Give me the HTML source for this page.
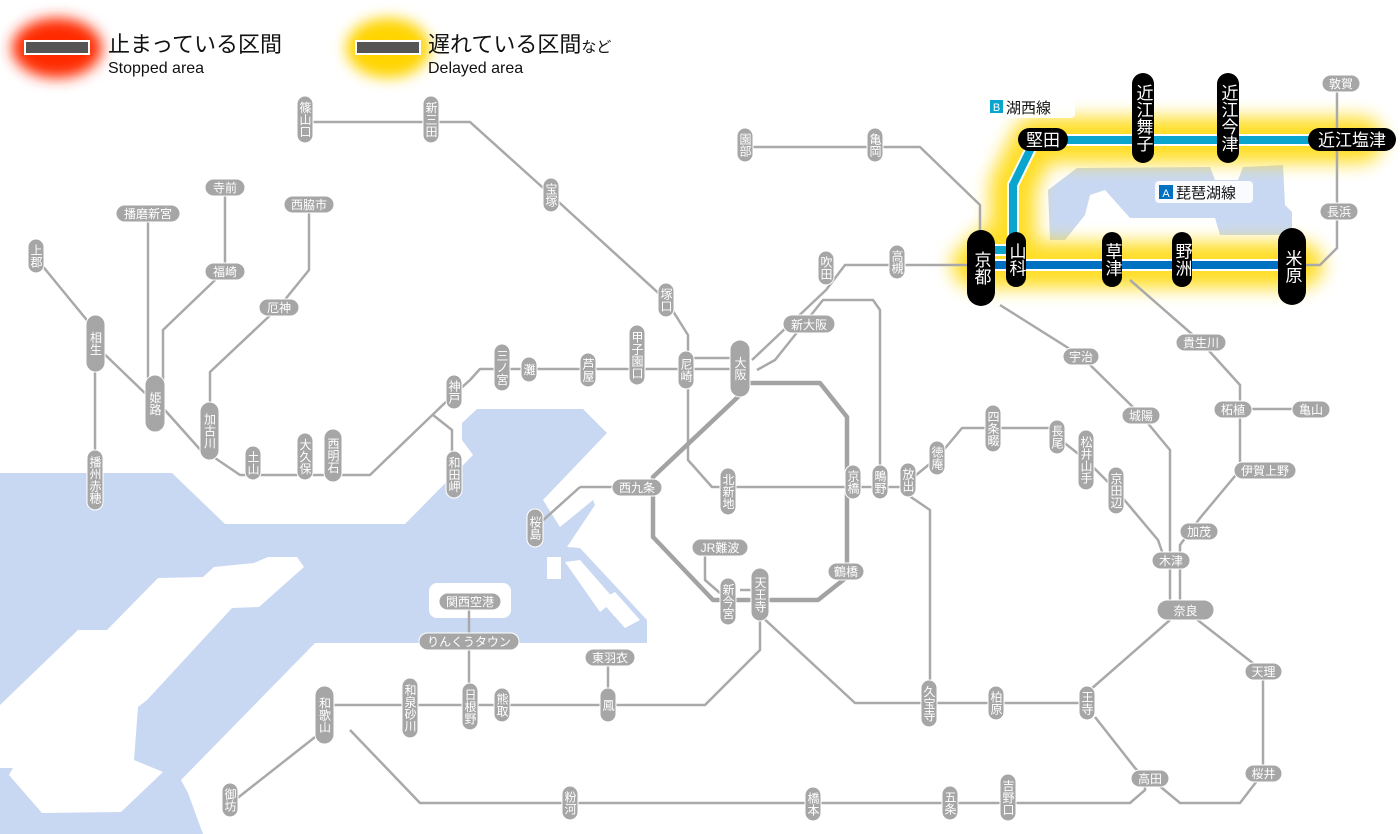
<!DOCTYPE html>
<html><head><meta charset="utf-8"><style>
html,body{margin:0;padding:0;background:#fff;width:1400px;height:834px;overflow:hidden}
svg{display:block}
.l{fill:none;stroke:#a9a9a9;stroke-width:2.5;stroke-linejoin:round}
.L{fill:none;stroke:#a3a3a3;stroke-width:4.5;stroke-linejoin:round}
.p{fill:#a6a6a6;stroke:#fff;stroke-width:1}
.t{fill:#fff;font-family:"Liberation Sans","Noto Sans CJK JP",sans-serif;font-size:12px;text-anchor:middle}
.v{writing-mode:vertical-rl}
.b{fill:#000}
.bt{fill:#fff;font-family:"Liberation Sans","Noto Sans CJK JP",sans-serif;font-size:17px;text-anchor:middle}
.g{font-family:"Liberation Sans","Noto Sans CJK JP",sans-serif}
</style></head><body>
<svg width="1400" height="834" viewBox="0 0 1400 834" xmlns="http://www.w3.org/2000/svg">
<defs>
<filter id="bl" x="-50%" y="-50%" width="200%" height="200%"><feGaussianBlur stdDeviation="9"/></filter>
<filter id="bl2" x="-50%" y="-50%" width="200%" height="200%"><feGaussianBlur stdDeviation="7"/></filter>
</defs>
<!-- sea -->
<polygon fill="#c9d8f2" points="0,473 172,473 225,524 405,524 473,455 462,440 462,423 477,409 583,409 607,433 543,500 560,527 593,500 595,505 567,547 580,548 647,620 647,643 315,643 181,780 188,793 203,834 0,834"/>
<polygon fill="#fff" points="0,705 78,630 107,630 158,578 203,577 214,567 254,563 268,557 297,557 304,567 259,607 232,608 147,700 138,707 134,760 163,772 121,812 42,813 9,775 13,768 0,768"/>
<rect x="429" y="583" width="82" height="35" rx="8" fill="#fff"/>
<rect x="547" y="557" width="14" height="22" fill="#fff"/>
<polygon fill="#fff" points="565,562 580,560 615,600 600,612"/>
<polygon fill="#fff" points="600,600 615,592 640,620 625,628"/>
<!-- lake -->
<polygon fill="#c9d8f2" points="1048,190 1077,168 1210,167 1215,180 1238,180 1243,167 1283,165 1285,205 1292,212 1292,235 1220,235 1215,218 1130,218 1105,190 1090,195 1085,215 1065,240 1050,240"/>
<!-- legend -->
<ellipse cx="57" cy="48" rx="45" ry="30" fill="#ff2a00" filter="url(#bl2)"/>
<ellipse cx="388" cy="48" rx="42" ry="30" fill="#ffd400" filter="url(#bl2)"/>
<rect x="25" y="41" width="64" height="13" fill="#555" stroke="#fff" stroke-width="2"/>
<rect x="356" y="41" width="64" height="13" fill="#555" stroke="#fff" stroke-width="2"/>
<text x="108" y="52" class="g" font-size="22" fill="#111">止まっている区間</text>
<text x="108" y="73" class="g" font-size="16" fill="#111">Stopped area</text>
<text x="428" y="52" class="g" font-size="22" fill="#111">遅れている区間<tspan font-size="15">など</tspan></text>
<text x="428" y="73" class="g" font-size="16" fill="#111">Delayed area</text>
<!-- glow -->
<path d="M975,265 H1300 M990,250 H1013 V185 L1035,140 H1360" fill="none" stroke="#ffd800" stroke-width="46" stroke-linejoin="round" stroke-linecap="round" opacity="0.85" filter="url(#bl)"/>
<!-- gray lines -->
<g class="l">
<path d="M305,122 H470 L551,195 L666,300 L688,335 V460 L712,487 H910"/>
<path d="M36,258 L95,330 M95,345 L150,398 M163,408 L205,455 M215,458 L240,475 H370 L450,398 L470,380 L480,369 H740"/>
<path d="M688,358 H740"/>
<path d="M95,370 V480"/>
<path d="M148,213 V380"/>
<path d="M225,187 V271 L213,282 L163,330 V380"/>
<path d="M309,204 V270 L279,307 L210,372 V402"/>
<path d="M433,415 L452,430 V470"/>
<path d="M580,487 H636 M580,487 L540,523"/>
<path d="M752,360 L826,290 L845,265 H970"/>
<path d="M757,370 L775,360 L823,300 H873 L880,310 V480"/>
<path d="M745,147 H920 L980,205 V230"/>
<path d="M1000,305 L1081,356 L1141,415 L1170,450 V600 M1180,600 V545 L1200,518 L1240,470 V385 L1201,342 L1130,280"/>
<path d="M1240,409 H1310"/>
<path d="M1305,265 H1320 L1337,248 V83"/>
<path d="M910,480 L937,458 L962,428 H1050 L1057,437 L1086,460 L1116,490 L1158,540 L1165,560"/>
<path d="M908,495 L930,510 V703 H1087 M760,615 L855,703 H930"/>
<path d="M1090,690 L1170,620 M1195,618 L1263,671 V773 L1240,803 H1180 L1150,778 M1095,717 L1135,768 L1145,778 V790 L1130,803 H420 L350,730"/>
<path d="M760,620 V650 L705,705 H324 M608,657 V705 M469,601 V705"/>
<path d="M324,730 L235,800"/>
<path d="M705,547 V580 L728,600 M740,590 H760"/>
</g>
<g class="L">
<path d="M740,395 L653,477 V537 L713,600 H818 L847,577 V417 L820,383 H750"/>
</g>
<!-- blue lines -->
<path d="M975,265 H1300" fill="none" stroke="#fff" stroke-width="12"/>
<path d="M975,265 H1300" fill="none" stroke="#0070c0" stroke-width="8"/>
<path d="M985,250 H1013 V185 L1035,140 H1355" fill="none" stroke="#fff" stroke-width="12" stroke-linejoin="round"/>
<path d="M985,250 H1013 V185 L1035,140 H1355" fill="none" stroke="#0aa5cf" stroke-width="8" stroke-linejoin="round"/>
<!-- line labels -->
<rect x="985" y="96" width="90" height="22" rx="4" fill="#fff" opacity="0.9"/>
<rect x="990" y="100" width="13" height="13" fill="#0aa5cf"/><text x="996.5" y="111" class="g" font-size="11" fill="#fff" text-anchor="middle">B</text>
<text x="1006" y="113" class="g" font-size="15" fill="#111">湖西線</text>
<rect x="1155" y="181" width="98" height="22" rx="4" fill="#fff" opacity="0.9"/>
<rect x="1159" y="185" width="14" height="14" fill="#0070c0"/><text x="1166" y="197" class="g" font-size="11" fill="#fff" text-anchor="middle">A</text>
<text x="1176" y="198" class="g" font-size="15" fill="#111">琵琶湖線</text>
<!-- gray vertical stations -->
<g>
<rect class="p" x="297" y="96" width="16" height="47" rx="8"/><text class="t v" x="305" y="119.5">篠山口</text>
<rect class="p" x="423" y="96" width="16" height="47" rx="8"/><text class="t v" x="431" y="119.5">新三田</text>
<rect class="p" x="737" y="128" width="16" height="34" rx="8"/><text class="t v" x="745" y="145">園部</text>
<rect class="p" x="867" y="128" width="16" height="34" rx="8"/><text class="t v" x="875" y="145">亀岡</text>
<rect class="p" x="543" y="178" width="16" height="34" rx="8"/><text class="t v" x="551" y="195">宝塚</text>
<rect class="p" x="28" y="239" width="16" height="34" rx="8"/><text class="t v" x="36" y="256">上郡</text>
<rect class="p" x="658" y="283" width="16" height="34" rx="8"/><text class="t v" x="666" y="300">塚口</text>
<rect class="p" x="818" y="251" width="16" height="34" rx="8"/><text class="t v" x="826" y="268">吹田</text>
<rect class="p" x="889" y="245" width="16" height="34" rx="8"/><text class="t v" x="897" y="262">高槻</text>
<rect class="p" x="245" y="446" width="16" height="34" rx="8"/><text class="t v" x="253" y="463">土山</text>
<rect class="p" x="297" y="433" width="16" height="47" rx="8"/><text class="t v" x="305" y="456.5">大久保</text>
<rect class="p" x="324" y="429" width="18" height="53" rx="9"/><text class="t v" x="333" y="455.5" font-size="14">西明石</text>
<rect class="p" x="446" y="375" width="16" height="34" rx="8"/><text class="t v" x="454" y="392">神戸</text>
<rect class="p" x="494" y="344" width="16" height="47" rx="8"/><text class="t v" x="502" y="367.5">三ノ宮</text>
<rect class="p" x="521" y="357" width="16" height="25" rx="8"/><text class="t v" x="529" y="369.5">灘</text>
<rect class="p" x="580" y="353" width="16" height="34" rx="8"/><text class="t v" x="588" y="370">芦屋</text>
<rect class="p" x="629" y="325" width="16" height="60" rx="8"/><text class="t v" x="637" y="355">甲子園口</text>
<rect class="p" x="678" y="351" width="16" height="38" rx="8"/><text class="t v" x="686" y="370">尼崎</text>
<rect class="p" x="446" y="451" width="16" height="47" rx="8"/><text class="t v" x="454" y="474.5">和田岬</text>
<rect class="p" x="87" y="450" width="16" height="60" rx="8"/><text class="t v" x="95" y="480">播州赤穂</text>
<rect class="p" x="720" y="468" width="16" height="47" rx="8"/><text class="t v" x="728" y="491.5">北新地</text>
<rect class="p" x="845" y="465" width="16" height="34" rx="8"/><text class="t v" x="853" y="482">京橋</text>
<rect class="p" x="872" y="465" width="16" height="34" rx="8"/><text class="t v" x="880" y="482">鴫野</text>
<rect class="p" x="900" y="463" width="16" height="34" rx="8"/><text class="t v" x="908" y="480">放出</text>
<rect class="p" x="929" y="441" width="16" height="34" rx="8"/><text class="t v" x="937" y="458">徳庵</text>
<rect class="p" x="985" y="405" width="16" height="47" rx="8"/><text class="t v" x="993" y="428.5">四条畷</text>
<rect class="p" x="1049" y="420" width="16" height="34" rx="8"/><text class="t v" x="1057" y="437">長尾</text>
<rect class="p" x="1078" y="430" width="16" height="60" rx="8"/><text class="t v" x="1086" y="460">松井山手</text>
<rect class="p" x="1108" y="467" width="16" height="47" rx="8"/><text class="t v" x="1116" y="490.5">京田辺</text>
<rect class="p" x="527" y="509" width="16" height="38" rx="8"/><text class="t v" x="535" y="528">桜島</text>
<rect class="p" x="720" y="578" width="16" height="47" rx="8"/><text class="t v" x="728" y="601.5">新今宮</text>
<rect class="p" x="751" y="568" width="18" height="53" rx="9"/><text class="t v" x="760" y="594.5" font-size="14">天王寺</text>
<rect class="p" x="600" y="688" width="16" height="34" rx="8"/><text class="t v" x="608" y="705">鳳</text>
<rect class="p" x="462" y="683" width="16" height="47" rx="8"/><text class="t v" x="470" y="706.5">日根野</text>
<rect class="p" x="494" y="688" width="16" height="34" rx="8"/><text class="t v" x="502" y="705">熊取</text>
<rect class="p" x="402" y="678" width="16" height="60" rx="8"/><text class="t v" x="410" y="708">和泉砂川</text>
<rect class="p" x="222" y="783" width="16" height="34" rx="8"/><text class="t v" x="230" y="800">御坊</text>
<rect class="p" x="562" y="786" width="16" height="34" rx="8"/><text class="t v" x="570" y="803">粉河</text>
<rect class="p" x="805" y="787" width="16" height="34" rx="8"/><text class="t v" x="813" y="804">橋本</text>
<rect class="p" x="942" y="786" width="16" height="34" rx="8"/><text class="t v" x="950" y="803">五条</text>
<rect class="p" x="1000" y="774" width="16" height="47" rx="8"/><text class="t v" x="1008" y="797.5">吉野口</text>
<rect class="p" x="921" y="680" width="16" height="47" rx="8"/><text class="t v" x="929" y="703.5">久宝寺</text>
<rect class="p" x="988" y="686" width="16" height="34" rx="8"/><text class="t v" x="996" y="703">柏原</text>
<rect class="p" x="1079" y="686" width="16" height="34" rx="8"/><text class="t v" x="1087" y="703">王寺</text>
<!-- major gray -->
<rect class="p" x="86" y="315" width="19" height="57" rx="9.5"/><text class="t v" x="95.5" y="343.5" font-size="16">相生</text>
<rect class="p" x="145" y="375" width="20" height="57" rx="10"/><text class="t v" x="155" y="403.5" font-size="16">姫路</text>
<rect class="p" x="200" y="402" width="19" height="58" rx="9.5"/><text class="t v" x="209.5" y="431" font-size="14">加古川</text>
<rect class="p" x="730" y="340" width="20" height="57" rx="10"/><text class="t v" x="740" y="368.5" font-size="16">大阪</text>
<rect class="p" x="315" y="686" width="19" height="58" rx="9.5"/><text class="t v" x="324.5" y="715" font-size="15">和歌山</text>
</g>
<!-- gray horizontal stations -->
<g>
<rect class="p" x="205" y="179" width="40" height="17" rx="8.5"/><text class="t" x="225" y="192">寺前</text>
<rect class="p" x="116" y="205" width="64" height="17" rx="8.5"/><text class="t" x="148" y="218">播磨新宮</text>
<rect class="p" x="284" y="196" width="50" height="17" rx="8.5"/><text class="t" x="309" y="209">西脇市</text>
<rect class="p" x="205" y="263" width="40" height="17" rx="8.5"/><text class="t" x="225" y="276">福崎</text>
<rect class="p" x="259" y="299" width="40" height="17" rx="8.5"/><text class="t" x="279" y="312">厄神</text>
<rect class="p" x="783" y="315" width="52" height="18" rx="9"/><text class="t" x="809" y="329" font-size="14">新大阪</text>
<rect class="p" x="612" y="479" width="50" height="17" rx="8.5"/><text class="t" x="637" y="492">西九条</text>
<rect class="p" x="692" y="539" width="56" height="17" rx="8.5"/><text class="t" x="720" y="552">JR難波</text>
<rect class="p" x="828" y="563" width="36" height="17" rx="8.5"/><text class="t" x="846" y="576">鶴橋</text>
<rect class="p" x="439" y="593" width="62" height="17" rx="8.5"/><text class="t" x="470" y="606">関西空港</text>
<rect class="p" x="419" y="633" width="100" height="17" rx="8.5"/><text class="t" x="469" y="646">りんくうタウン</text>
<rect class="p" x="585" y="649" width="50" height="17" rx="8.5"/><text class="t" x="610" y="662">東羽衣</text>
<rect class="p" x="1063" y="348" width="36" height="17" rx="8.5"/><text class="t" x="1081" y="361">宇治</text>
<rect class="p" x="1122" y="407" width="38" height="17" rx="8.5"/><text class="t" x="1141" y="420">城陽</text>
<rect class="p" x="1176" y="334" width="50" height="17" rx="8.5"/><text class="t" x="1201" y="347">貴生川</text>
<rect class="p" x="1214" y="401" width="38" height="17" rx="8.5"/><text class="t" x="1233" y="414">柘植</text>
<rect class="p" x="1292" y="401" width="38" height="17" rx="8.5"/><text class="t" x="1311" y="414">亀山</text>
<rect class="p" x="1234" y="462" width="62" height="17" rx="8.5"/><text class="t" x="1265" y="475">伊賀上野</text>
<rect class="p" x="1180" y="523" width="38" height="17" rx="8.5"/><text class="t" x="1199" y="536">加茂</text>
<rect class="p" x="1152" y="552" width="38" height="17" rx="8.5"/><text class="t" x="1171" y="565">木津</text>
<rect class="p" x="1157" y="600" width="57" height="20" rx="10"/><text class="t" x="1185.5" y="615" font-size="15">奈良</text>
<rect class="p" x="1245" y="663" width="37" height="17" rx="8.5"/><text class="t" x="1263.5" y="676">天理</text>
<rect class="p" x="1245" y="765" width="37" height="17" rx="8.5"/><text class="t" x="1263.5" y="778">桜井</text>
<rect class="p" x="1131" y="770" width="38" height="17" rx="8.5"/><text class="t" x="1150" y="783">高田</text>
<rect class="p" x="1322" y="75" width="38" height="17" rx="8.5"/><text class="t" x="1341" y="88">敦賀</text>
<rect class="p" x="1320" y="203" width="38" height="17" rx="8.5"/><text class="t" x="1339" y="216">長浜</text>
</g>
<!-- black stations -->
<g>
<rect class="b" x="967" y="230" width="28" height="76" rx="14"/><text class="bt v" x="981" y="268" font-size="20">京都</text>
<rect class="b" x="1006" y="232" width="20" height="55" rx="10"/><text class="bt v" x="1016" y="259.5">山科</text>
<rect class="b" x="1102" y="232" width="20" height="55" rx="10"/><text class="bt v" x="1112" y="259.5">草津</text>
<rect class="b" x="1172" y="232" width="20" height="55" rx="10"/><text class="bt v" x="1182" y="259.5">野洲</text>
<rect class="b" x="1278" y="228" width="28" height="77" rx="14"/><text class="bt v" x="1292" y="266.5" font-size="20">米原</text>
<rect class="b" x="1132" y="73" width="22" height="90" rx="11"/><text class="bt v" x="1143" y="118">近江舞子</text>
<rect class="b" x="1217" y="73" width="22" height="90" rx="11"/><text class="bt v" x="1228" y="118">近江今津</text>
<rect class="b" x="1018" y="128" width="50" height="23" rx="11.5"/><text class="bt" x="1043" y="146">堅田</text>
<rect class="b" x="1308" y="128" width="88" height="23" rx="11.5"/><text class="bt" x="1352" y="146">近江塩津</text>
</g>
</svg>
</body></html>
